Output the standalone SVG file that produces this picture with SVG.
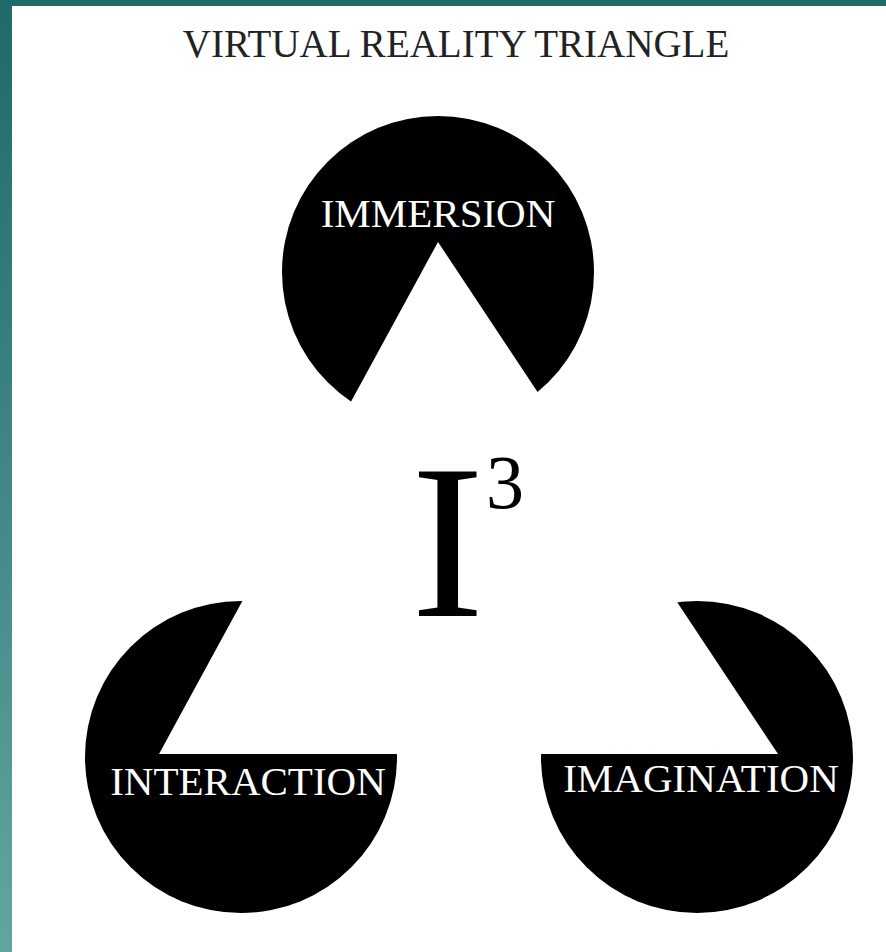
<svg xmlns="http://www.w3.org/2000/svg" width="886" height="952" viewBox="0 0 886 952">
  <defs>
    <linearGradient id="bg" x1="0" y1="0" x2="0" y2="1">
      <stop offset="0" stop-color="#1f6a6a"/>
      <stop offset="1" stop-color="#62a4a1"/>
    </linearGradient>
  </defs>
  <style>
    .disc { fill: #000; }
    .label { font-family: "Liberation Serif", "Times New Roman", serif; fill: #fff; font-size: 41px; text-anchor: middle; }
    .title { font-family: "Liberation Serif", "Times New Roman", serif; fill: #222; font-size: 39px; text-anchor: middle; }
    .big { font-family: "Liberation Serif", "Times New Roman", serif; fill: #000; }
  </style>
  <rect x="0" y="0" width="886" height="952" fill="url(#bg)"/>
  <rect x="12" y="6" width="874" height="946" fill="#fff"/>
  <text class="title" x="456" y="57">VIRTUAL REALITY TRIANGLE</text>

  <g id="immersion">
    <circle class="disc" cx="438" cy="272" r="156"/>
    <text class="label" x="438" y="227">IMMERSION</text>
  </g>
  <g id="interaction">
    <circle class="disc" cx="241" cy="757" r="156"/>
    <text class="label" x="248" y="795">INTERACTION</text>
  </g>
  <g id="imagination">
    <circle class="disc" cx="697" cy="757" r="156"/>
    <text class="label" x="701" y="792">IMAGINATION</text>
  </g>

  <g id="connectors">
    <polygon points="438,242 159,754 778,754" fill="#fff"/>
  </g>

  <g id="center">
    <text class="big" x="411" y="616" font-size="220">I</text>
    <text class="big" x="486" y="508" font-size="76">3</text>
  </g>
</svg>
